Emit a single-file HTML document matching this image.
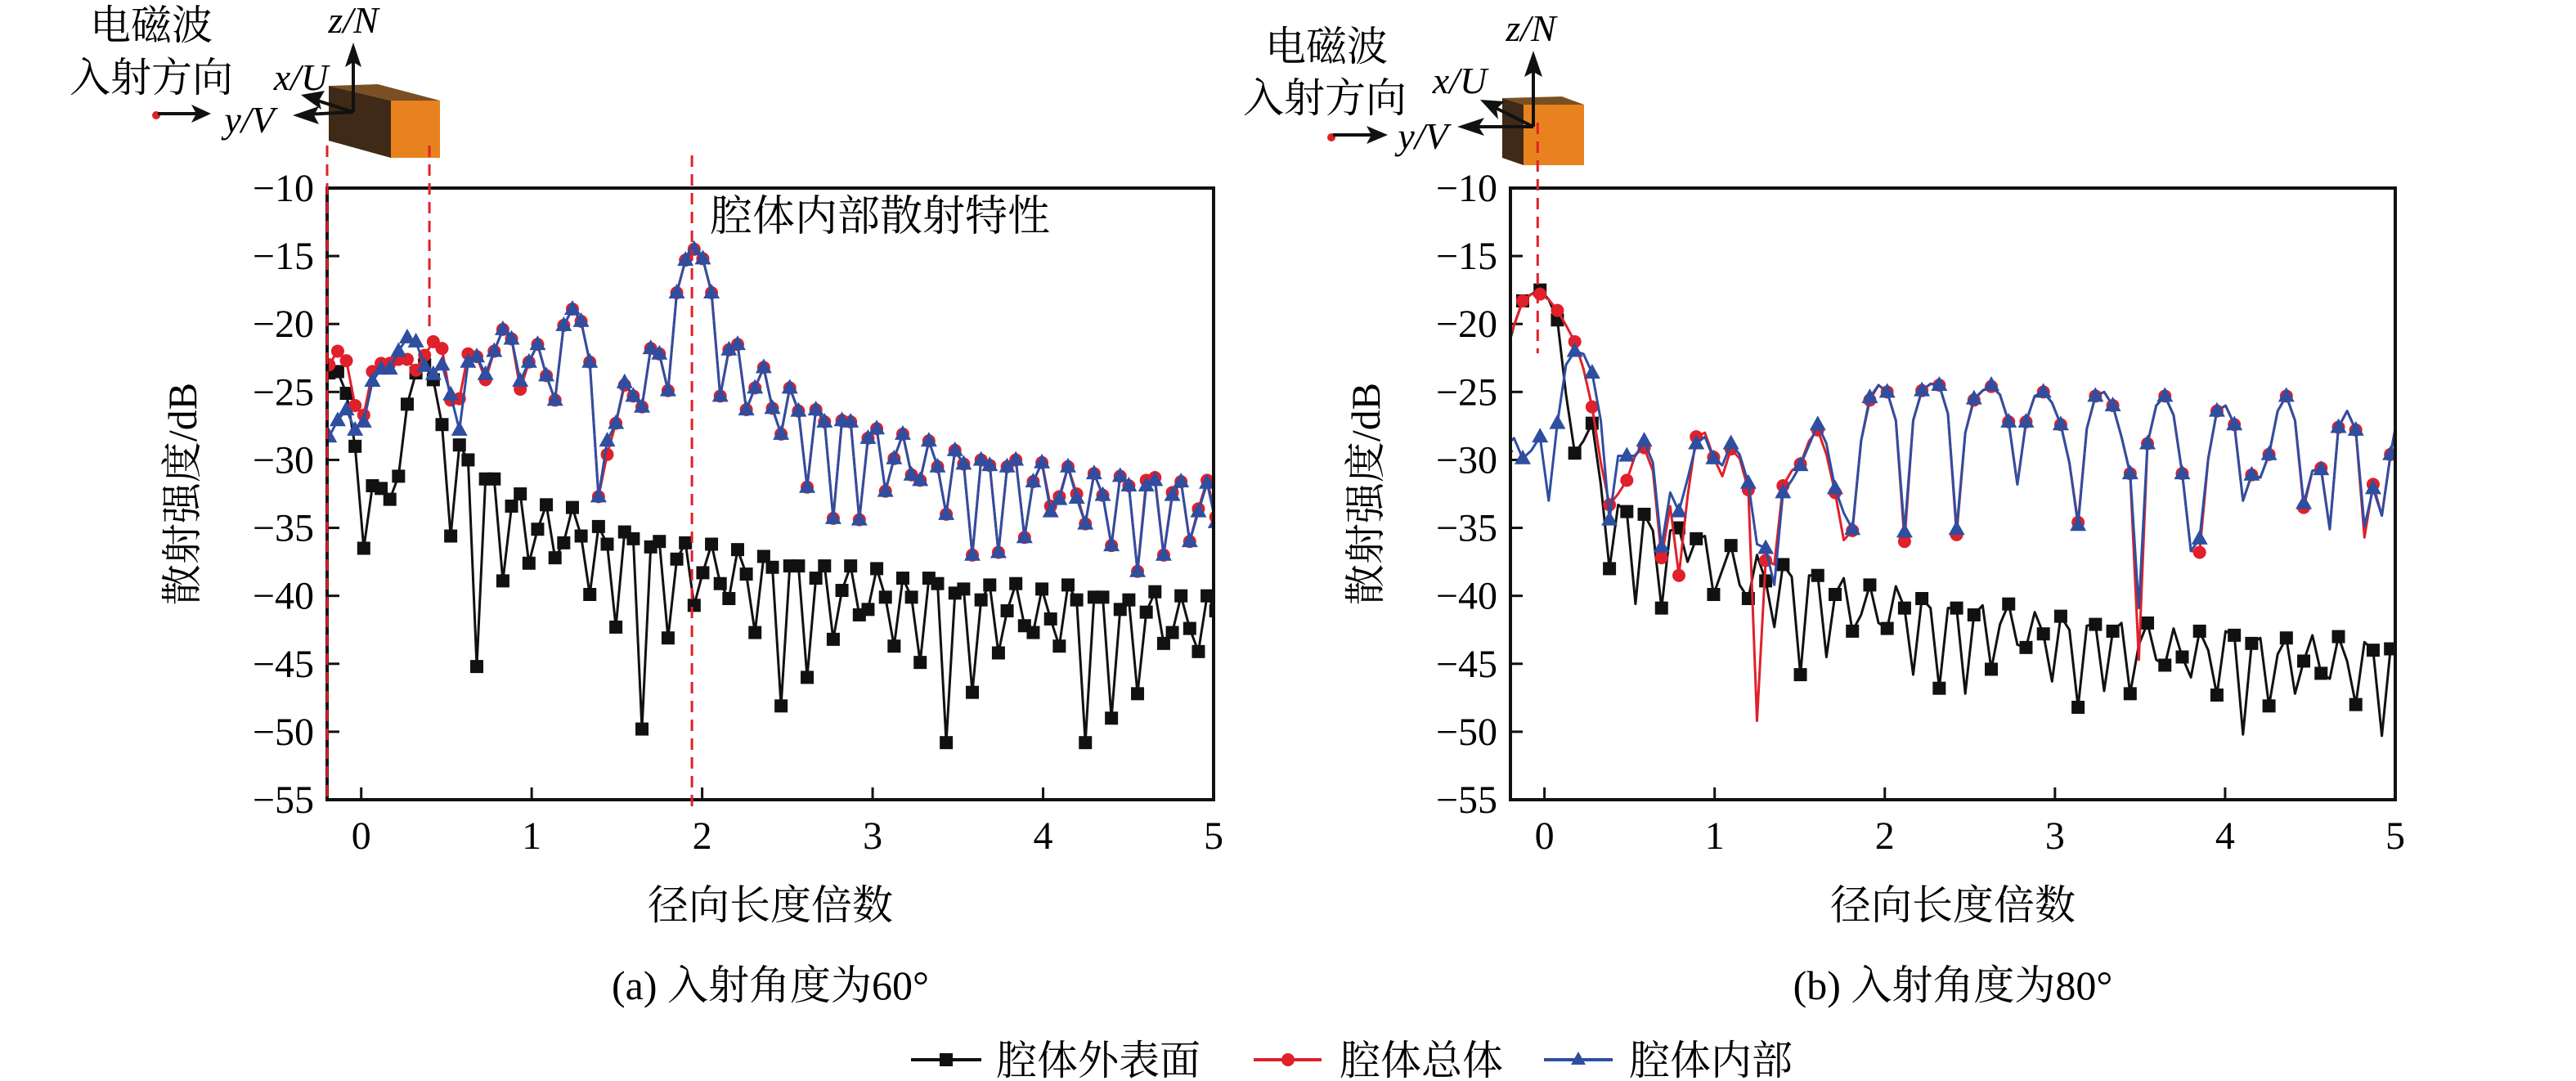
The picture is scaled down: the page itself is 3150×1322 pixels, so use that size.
<!DOCTYPE html>
<html><head><meta charset="utf-8">
<style>
html,body{margin:0;padding:0;background:#fff;}
svg{display:block;font-family:"Liberation Serif","Noto Serif CJK SC","Noto Sans CJK SC",serif;}
</style></head>
<body>
<svg id="fig" width="3150" height="1322" viewBox="0 0 3150 1322" xmlns="http://www.w3.org/2000/svg">
<defs>
<clipPath id="clipL"><rect x="400" y="230" width="1084" height="748"/></clipPath>
<clipPath id="clipR"><rect x="1847" y="230" width="1082" height="748"/></clipPath>
</defs>
<!-- left inset -->
<g>
<text x="185" y="48" font-size="50" text-anchor="middle">电磁波</text>
<text x="185" y="112" font-size="50" text-anchor="middle">入射方向</text>
<circle cx="191" cy="141" r="5" fill="#d22"/>
<line x1="193" y1="139" x2="240" y2="139" stroke="#111" stroke-width="4"/>
<polygon points="258,139 234,128 240,139 234,150" fill="#111"/>
<text x="305" y="162" font-size="46" font-style="italic" text-anchor="middle">y/V</text>
<text x="368" y="110" font-size="46" font-style="italic" text-anchor="middle">x/U</text>
<text x="432" y="40" font-size="46" font-style="italic" text-anchor="middle">z/N</text>
<polygon points="402,105 478,123 538,123 462,103" fill="#7a4f23"/>
<polygon points="402,105 478,123 478,193 402,172" fill="#3e2a17"/>
<rect x="478" y="123" width="60" height="70" fill="#e8821e"/>
<line x1="432" y1="137" x2="432" y2="68" stroke="#111" stroke-width="4"/>
<polygon points="432,52 422,82 432,76 442,82" fill="#111"/>
<line x1="432" y1="137" x2="375" y2="140" stroke="#111" stroke-width="4"/>
<polygon points="358,141 390,130 384,141 390,152" fill="#111"/>
<line x1="432" y1="137" x2="385" y2="122" stroke="#111" stroke-width="4"/>
<polygon points="368,116 397,111 390,123 393,134" fill="#111"/>
</g>
<!-- right inset -->
<g>
<text x="1622" y="74" font-size="50" text-anchor="middle">电磁波</text>
<text x="1620" y="137" font-size="50" text-anchor="middle">入射方向</text>
<circle cx="1628" cy="168" r="5" fill="#d22"/>
<line x1="1630" y1="165" x2="1678" y2="165" stroke="#111" stroke-width="4"/>
<polygon points="1697,165 1671,154 1677,165 1671,176" fill="#111"/>
<text x="1740" y="182" font-size="46" font-style="italic" text-anchor="middle">y/V</text>
<text x="1785" y="114" font-size="46" font-style="italic" text-anchor="middle">x/U</text>
<text x="1872" y="50" font-size="46" font-style="italic" text-anchor="middle">z/N</text>
<polygon points="1837,120 1863,128 1937,128 1910,118" fill="#7a4f23"/>
<polygon points="1837,120 1863,128 1863,202 1837,193" fill="#3e2a17"/>
<rect x="1863" y="128" width="74" height="74" fill="#e8821e"/>
<line x1="1875" y1="155" x2="1875" y2="80" stroke="#111" stroke-width="4"/>
<polygon points="1875,62 1864,94 1875,88 1886,94" fill="#111"/>
<line x1="1875" y1="155" x2="1800" y2="155" stroke="#111" stroke-width="4"/>
<polygon points="1782,155 1815,144 1808,155 1815,166" fill="#111"/>
<line x1="1875" y1="155" x2="1825" y2="130" stroke="#111" stroke-width="4"/>
<polygon points="1810,122 1840,124 1830,133 1832,146" fill="#111"/>
</g>
<g id="plots"></g>
<!-- legend -->
<g>
<g>
<line x1="1114" y1="1296" x2="1200" y2="1296" stroke="#111" stroke-width="4"/>
<rect x="1149" y="1288" width="16" height="16" fill="#111"/>
<text x="1218" y="1314" font-size="50">腔体外表面</text></g>
<g>
<line x1="1533" y1="1296" x2="1616" y2="1296" stroke="#e0202a" stroke-width="4"/>
<circle cx="1575" cy="1296" r="8" fill="#e0202a"/>
<text x="1638" y="1314" font-size="50">腔体总体</text></g>
<g>
<line x1="1888" y1="1296" x2="1972" y2="1296" stroke="#2f4ea0" stroke-width="4"/>
<polygon points="1930,1286 1939,1302 1921,1302" fill="#2f4ea0"/>
<text x="1992" y="1314" font-size="50">腔体内部</text></g>
</g>
</svg>
<script>
// ---------- data ----------
const xTicks = [0,1,2,3,4,5];
const yTicks = [-10,-15,-20,-25,-30,-35,-40,-45,-50,-55];
const xStartA = -0.24, xStepA = 0.051;
const xStartB = -0.23, xStepB = 0.051;
const outerA = [-25.9,-23.6,-23.5,-25.1,-29.0,-36.5,-31.9,-32.1,-32.9,-31.2,
-25.9,-23.6,-23.0,-24.1,-27.4,-35.6,-28.9,-30.0,-45.2,-31.4,
-31.4,-38.9,-33.4,-32.5,-37.6,-35.1,-33.3,-37.2,-36.1,-33.5,
-35.6,-39.9,-34.9,-36.2,-42.3,-35.3,-35.8,-49.8,-36.4,-36.0,
-43.1,-37.3,-36.1,-40.7,-38.3,-36.2,-39.1,-40.2,-36.6,-38.4,
-42.7,-37.1,-37.9,-48.1,-37.8,-37.8,-46.0,-38.7,-37.8,-43.2,
-39.6,-37.8,-41.4,-41.0,-38.0,-40.1,-43.7,-38.7,-40.1,-44.9,
-38.7,-39.1,-50.8,-39.8,-39.5,-47.1,-40.3,-39.2,-44.2,-41.1,
-39.1,-42.2,-42.7,-39.5,-41.7,-43.7,-39.2,-40.3,-50.8,-40.1,
-40.1,-49.0,-41.0,-40.3,-47.2,-41.2,-39.7,-43.5,-42.7,-40.0,
-42.4,-44.1,-40.0,-41.1];
const totalA = [-26.4,-23.0,-22.0,-22.7,-26.0,-26.7,-23.5,-22.9,-22.9,-22.6,
-22.6,-23.4,-22.3,-21.3,-21.8,-25.6,-25.5,-22.2,-22.4,-24.1,
-22.0,-20.4,-21.1,-24.8,-22.8,-21.5,-23.8,-25.6,-20.1,-18.9,
-19.8,-22.8,-32.7,-29.6,-27.3,-24.5,-25.3,-26.1,-21.8,-22.2,
-24.9,-17.7,-15.3,-14.5,-15.2,-17.7,-25.3,-21.9,-21.5,-26.3,
-24.7,-23.2,-26.2,-28.1,-24.7,-26.4,-32.0,-26.3,-27.2,-34.3,
-27.1,-27.2,-34.4,-28.4,-27.7,-32.3,-29.9,-28.1,-31.1,-31.5,
-28.6,-30.5,-34.0,-29.3,-30.3,-37.0,-30.0,-30.4,-36.8,-30.5,
-30.0,-35.7,-31.6,-30.2,-33.4,-32.7,-30.5,-32.5,-34.7,-31.0,
-32.6,-36.3,-31.2,-31.9,-38.2,-31.5,-31.3,-37.0,-32.4,-31.6,
-36.0,-33.6,-31.5,-34.2];
const interiorA = [-28.3,-28.3,-27.1,-26.3,-27.8,-27.2,-24.2,-23.3,-23.3,-22.0,
-21.0,-21.3,-23.1,-23.7,-23.0,-25.2,-27.8,-22.8,-22.4,-23.7,
-22.0,-20.4,-21.1,-24.2,-22.8,-21.5,-23.8,-25.6,-20.1,-18.9,
-19.8,-22.8,-32.7,-28.6,-27.3,-24.3,-25.3,-26.1,-21.8,-22.2,
-24.9,-17.7,-15.3,-14.5,-15.2,-17.7,-25.3,-21.9,-21.5,-26.3,
-24.7,-23.2,-26.2,-28.1,-24.7,-26.4,-32.0,-26.3,-27.2,-34.3,
-27.1,-27.2,-34.4,-28.4,-27.7,-32.3,-29.9,-28.1,-31.1,-31.5,
-28.6,-30.5,-34.0,-29.3,-30.3,-37.0,-30.0,-30.4,-36.8,-30.5,
-30.0,-35.7,-31.6,-30.2,-33.8,-32.9,-30.5,-32.8,-34.7,-31.0,
-32.6,-36.3,-31.2,-31.9,-38.2,-31.9,-31.5,-37.0,-32.6,-31.6,
-36.0,-33.8,-31.7,-34.6];
const outerB = [-22.4,-20.1,-18.3,-17.8,-17.5,-18.2,-19.7,-25.2,-29.5,-28.6,
-27.3,-31.8,-38.0,-33.3,-33.8,-40.6,-34.0,-35.2,-40.9,-35.2,
-35.0,-37.5,-35.8,-35.6,-39.9,-38.1,-36.3,-39.2,-40.2,-37.0,
-38.9,-42.3,-37.7,-38.6,-45.8,-38.5,-38.5,-44.5,-39.9,-38.7,
-42.6,-41.4,-39.2,-42.0,-42.4,-39.3,-40.9,-45.8,-40.2,-40.9,
-46.8,-40.9,-40.9,-47.2,-41.4,-40.7,-45.4,-42.1,-40.6,-43.6,
-43.8,-41.2,-42.8,-46.3,-41.5,-42.5,-48.2,-42.2,-42.1,-47.0,
-42.6,-42.0,-47.2,-43.6,-42.0,-44.7,-45.1,-42.4,-44.5,-46.0,
-42.6,-44.0,-47.3,-42.6,-42.9,-50.2,-43.5,-43.1,-48.1,-44.3,
-43.1,-47.2,-44.8,-42.9,-45.7,-46.1,-43.0,-44.8,-48.0,-43.4,
-44.0,-50.3,-43.9,-43.6];
const totalB = [-21.8,-20.1,-18.3,-17.8,-17.8,-18.2,-19.0,-20.1,-21.3,-23.3,
-26.1,-30.2,-33.3,-32.5,-31.5,-29.6,-29.1,-30.8,-37.2,-33.4,
-38.5,-32.7,-28.3,-28.0,-29.8,-31.2,-29.2,-29.9,-32.2,-49.2,
-37.4,-37.7,-31.9,-30.8,-30.3,-28.6,-27.8,-29.6,-32.4,-35.9,
-35.2,-28.6,-25.6,-24.5,-25.0,-27.1,-36.0,-27.1,-24.9,-24.4,
-24.5,-26.6,-35.5,-28.0,-25.6,-24.9,-24.6,-25.2,-27.2,-31.8,
-27.2,-25.3,-25.0,-25.8,-27.4,-30.2,-34.6,-27.7,-25.3,-25.0,
-26.0,-28.3,-31.0,-44.7,-28.8,-26.0,-25.3,-26.7,-31.0,-36.7,
-36.8,-29.9,-26.4,-26.0,-27.4,-33.0,-31.1,-31.3,-29.6,-26.4,
-25.3,-27.1,-33.5,-30.8,-30.6,-35.1,-27.6,-26.4,-27.8,-35.7,
-31.8,-34.1,-29.6,-26.1];
const interiorB = [-29.0,-28.4,-29.9,-29.3,-28.3,-33.0,-27.3,-23.0,-22.0,-22.2,
-23.6,-27.1,-34.4,-29.7,-29.7,-29.7,-28.6,-30.2,-36.4,-32.4,
-33.8,-31.4,-28.8,-28.3,-29.9,-30.4,-28.8,-29.6,-31.7,-36.2,
-36.5,-39.2,-32.4,-31.5,-30.4,-28.9,-27.4,-28.8,-32.1,-33.9,
-35.1,-28.6,-25.4,-24.5,-25.0,-27.1,-35.3,-27.1,-24.9,-24.4,
-24.5,-26.6,-35.1,-28.0,-25.5,-24.9,-24.5,-25.2,-27.2,-31.8,
-27.2,-25.3,-25.0,-25.8,-27.4,-30.2,-34.8,-27.7,-25.3,-25.0,
-26.0,-28.3,-31.0,-40.9,-28.8,-26.0,-25.3,-26.7,-31.0,-36.7,
-35.8,-29.9,-26.4,-26.0,-27.4,-33.0,-31.1,-31.3,-29.6,-26.4,
-25.3,-27.1,-33.2,-30.8,-30.7,-35.1,-27.6,-26.4,-27.8,-34.9,
-32.1,-34.1,-29.6,-26.1];
const dashA = [-0.2, 0.4, 1.94];
const dashB = [-0.04];

// ---------- drawing ----------
const NS = "http://www.w3.org/2000/svg";
const root = document.getElementById("plots");
function mk(tag, attrs, parent){const e=document.createElementNS(NS,tag);for(const k in attrs)e.setAttribute(k,attrs[k]);(parent||root).appendChild(e);return e;}
const COL = {outer:"#111", total:"#e0202a", interior:"#2f4ea0"};

function panel(cfg){
  const {left,right,top,bottom,clip,tag} = cfg;
  const xs = v => left + (v + 0.2) * (right-left) / 5.2;
  const ys = v => top + (-10 - v) * (bottom-top) / 45;
  const g = mk("g", {});
  
  
  xTicks.forEach(t=>{
    mk("line",{x1:xs(t),x2:xs(t),y1:bottom,y2:bottom-15,stroke:"#111","stroke-width":3},g);
    const tx = mk("text",{x:xs(t),y:bottom+60,"font-size":48,"text-anchor":"middle"},g);
    tx.textContent = t;
    
    
  });
  yTicks.forEach(t=>{
    mk("line",{x1:left,x2:left+15,y1:ys(t),y2:ys(t),stroke:"#111","stroke-width":3},g);
    const ty = mk("text",{x:left-16,y:ys(t)+16,"font-size":48,"text-anchor":"end"},g);
    ty.textContent = "\u2212" + Math.abs(t);
    
    
  });
  const data = mk("g",{"clip-path":"url(#"+clip+")"},g);
  const series = [
    {vals:cfg.outer, col:COL.outer, mark:"sq", name:"outer-surface"},
    {vals:cfg.total, col:COL.total, mark:"ci", name:"total"},
    {vals:cfg.interior, col:COL.interior, mark:"tr", name:"interior"}];
  series.forEach(s=>{
    const px = (i)=> xs(cfg.x0 + i*cfg.step);
    const pts = s.vals.map((v,i)=>px(i).toFixed(1)+","+ys(v).toFixed(1)).join(" ");
    const pl = mk("polyline",{points:pts,fill:"none",stroke:s.col,"stroke-width":3,"stroke-linejoin":"round"},data);
    
    
    s.vals.forEach((v,i)=>{
      if (i % cfg.every) return;
      const x = px(i), y = ys(v);
      let m;
      if (s.mark==="sq") m = mk("rect",{x:x-8,y:y-8,width:16,height:16,fill:s.col},data);
      else if (s.mark==="ci") m = mk("circle",{cx:x,cy:y,r:8,fill:s.col},data);
      else m = mk("polygon",{points:`${x},${y-11} ${x+10},${y+7} ${x-10},${y+7}`,fill:s.col},data);
      
      
    });
  });
  const fr = mk("rect",{x:left,y:top,width:right-left,height:bottom-top,fill:"none",stroke:"#111","stroke-width":4},g);
  
  
  cfg.dash.forEach((d,k)=>{
    const y1 = cfg.dashTop[k], y2 = cfg.dashBottom[k];
    const dl = mk("line",{x1:xs(d),x2:xs(d),y1:y1,y2:y2,stroke:"#e0202a","stroke-width":3,"stroke-dasharray":"14,9"},g);
    
    
  });
  const xl = mk("text",{x:(left+right)/2,y:1124,"font-size":50,"text-anchor":"middle"},g);
  xl.textContent = "径向长度倍数";
  
  
  const yx = left - 160, yy = (top+bottom)/2;
  const yl = mk("text",{x:yx,y:yy,"font-size":50,"text-anchor":"middle",transform:`rotate(-90 ${yx} ${yy})`},g);
  yl.textContent = "散射强度/dB";
  
  
  const cp = mk("text",{x:(left+right)/2,y:1222,"font-size":50,"text-anchor":"middle"},g);
  cp.textContent = cfg.caption;
  
  
  return {xs, ys, g};
}

const A = panel({left:400,right:1484,top:230,bottom:978,clip:"clipL",tag:"a",x0:xStartA,step:xStepA,every:1,
  outer:outerA,total:totalA,interior:interiorA,dash:dashA,dashTop:[178,178,190],dashBottom:[978,400,990],
  caption:"(a) 入射角度为60°"});
const B = panel({left:1847,right:2929,top:230,bottom:978,clip:"clipR",tag:"b",x0:xStartB,step:xStepB,every:2,
  outer:outerB,total:totalB,interior:interiorB,dash:dashB,dashTop:[150],dashBottom:[432],
  caption:"(b) 入射角度为80°"});

const ann = mk("text",{x:868,y:282,"font-size":52},A.g);
ann.textContent = "腔体内部散射特性";


</script>
</body></html>
